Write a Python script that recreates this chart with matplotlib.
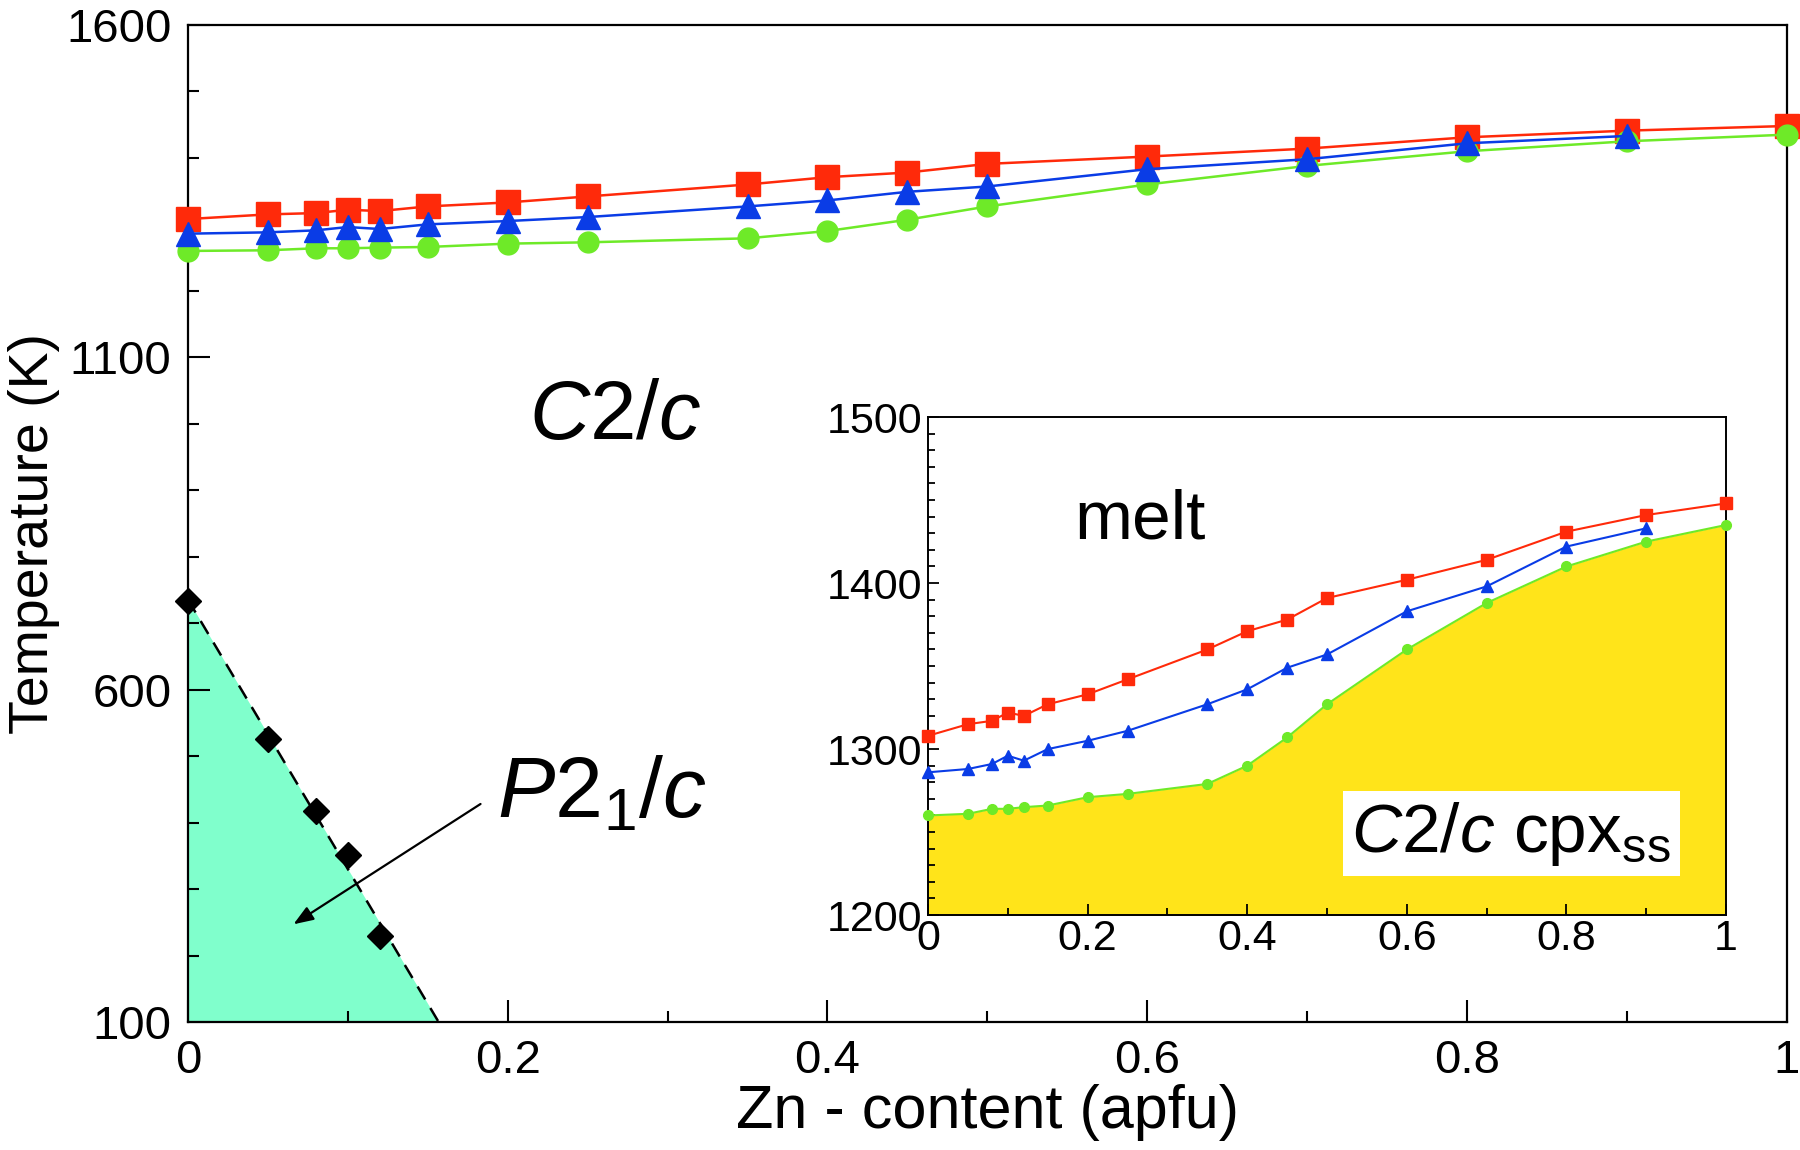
import numpy as np
import matplotlib
matplotlib.use("Agg")
import matplotlib.pyplot as plt
from matplotlib.ticker import MultipleLocator, FixedLocator

plt.rcParams["font.family"] = ["Liberation Sans", "DejaVu Sans"]
plt.rcParams["mathtext.fontset"] = "custom"
plt.rcParams["mathtext.rm"] = "Liberation Sans"
plt.rcParams["mathtext.it"] = "Liberation Sans:italic"

# ── Data ──────────────────────────────────────────────────────────────────────
zn      = [0, 0.05, 0.08, 0.10, 0.12, 0.15, 0.20, 0.25, 0.35, 0.40, 0.45, 0.50, 0.60, 0.70, 0.80, 0.90, 1.00]
t_red   = [1308, 1315, 1317, 1322, 1320, 1327, 1333, 1342, 1360, 1371, 1378, 1391, 1402, 1414, 1431, 1441, 1448]
zn_blue = [0, 0.05, 0.08, 0.10, 0.12, 0.15, 0.20, 0.25, 0.35, 0.40, 0.45, 0.50, 0.60, 0.70, 0.80, 0.90]
t_blue  = [1286, 1288, 1291, 1296, 1293, 1300, 1305, 1311, 1327, 1336, 1349, 1357, 1383, 1398, 1422, 1433]
t_green = [1260, 1261, 1264, 1264, 1265, 1266, 1271, 1273, 1279, 1290, 1307, 1327, 1360, 1388, 1410, 1425, 1435]

zn_p21  = [0, 0.05, 0.08, 0.10, 0.12]
t_p21   = [734, 526, 417, 352, 230]

main_yticks = [100, 600, 1100, 1600]

RED = "#FF2A0A"; BLUE = "#0A3CE6"; GREEN = "#6EEA28"
AQUA = "#80FFCC"; YELLOW = "#FFE41A"

fig = plt.figure(figsize=(18, 11.5), dpi=100)
ax = fig.add_axes([0.1044, 0.1113, 0.8883, 0.8670])

# ── P21/c boundary: linear trend through the diamonds, down to T = 100 ───────
slope, icpt = np.polyfit(zn_p21, t_p21, 1)
x_end = (100 - icpt) / slope
bx = np.array([0, x_end])
by = slope * bx + icpt
ax.fill_between(bx, 100, by, color=AQUA, lw=0, zorder=1)
ax.plot(bx, by, "--", color="black", lw=1.8, dashes=(6, 4), zorder=2)
ax.plot(zn_p21, t_p21, "D", color="black", ms=13, clip_on=False, zorder=4)

# ── melting curves ───────────────────────────────────────────────────────────
ax.plot(zn, t_red, "s-", color=RED, ms=17, lw=1.8, clip_on=False, zorder=3)
ax.plot(zn, t_green, "o-", color=GREEN, ms=15, lw=1.8, clip_on=False, zorder=3)
ax.plot(zn_blue, t_blue, "^-", color=BLUE, ms=17, lw=1.8, clip_on=False, zorder=3)

ax.set_xlim(0, 1)
ax.set_ylim(100, 1600)
ax.xaxis.set_major_locator(MultipleLocator(0.2))
ax.xaxis.set_minor_locator(MultipleLocator(0.1))
ax.yaxis.set_major_locator(FixedLocator(main_yticks))
ax.yaxis.set_minor_locator(MultipleLocator(100))
ax.xaxis.set_major_formatter(plt.FuncFormatter(lambda v, p: f"{v:g}"))
ax.tick_params(which="both", direction="in", top=False, right=False, width=1.5, labelsize=34)
ax.tick_params(which="major", length=16)
ax.tick_params(which="minor", length=8)
ax.tick_params(axis="y", pad=12)
ax.tick_params(axis="x", pad=12)
for sp in ax.spines.values():
    sp.set_linewidth(1.6)

ax.set_xlabel("Zn - content (apfu)", fontsize=44)
ax.set_ylabel("Temperature (K)", fontsize=40)
ax.xaxis.set_label_coords(0.5, -0.062)
ax.yaxis.set_label_coords(-0.080, 0.49)

ax.text(0.267, 1010, r"$C\mathrm{2}/c$", fontsize=60, ha="center", va="center")
ax.text(0.259, 441, r"$P\mathrm{2}_\mathrm{1}/c$", fontsize=62, ha="center", va="center")
ax.annotate("", xy=(0.066, 247), xytext=(0.183, 428),
            arrowprops=dict(arrowstyle="-|>,head_length=1.2,head_width=0.45",
                            color="black", lw=1.6, shrinkA=0, shrinkB=0))

# ── Inset ────────────────────────────────────────────────────────────────────
ins = fig.add_axes([0.5156, 0.2043, 0.4433, 0.4330], facecolor="white", zorder=5)
ins.fill_between(zn, 1200, t_green, color=YELLOW, lw=0, zorder=1)
ins.plot(zn, t_red, "s-", color=RED, ms=9, lw=1.5, clip_on=False, zorder=3)
ins.plot(zn, t_green, "o-", color=GREEN, ms=7, lw=1.5, clip_on=False, zorder=3)
ins.plot(zn_blue, t_blue, "^-", color=BLUE, ms=8, lw=1.5, clip_on=False, zorder=3)

ins.set_xlim(0, 1)
ins.set_ylim(1200, 1500)
ins.xaxis.set_major_locator(MultipleLocator(0.2))
ins.xaxis.set_minor_locator(MultipleLocator(0.1))
ins.yaxis.set_major_locator(MultipleLocator(100))
ins.yaxis.set_minor_locator(MultipleLocator(10))
ins.xaxis.set_major_formatter(plt.FuncFormatter(lambda v, p: f"{v:g}"))
ins.tick_params(which="both", direction="in", top=False, right=False, width=1.3, labelsize=31)
ins.tick_params(which="major", length=8)
ins.tick_params(which="minor", length=5)
ins.tick_params(axis="y", pad=4)
ins.tick_params(axis="x", pad=3)
for sp in ins.spines.values():
    sp.set_linewidth(1.4)

ins.text(0.265, 1438, "melt", fontsize=50, ha="center", va="center")
ins.text(0.731, 1249, r"$C\mathrm{2}/c\ \mathrm{cpx}_\mathrm{ss}$", fontsize=50,
         ha="center", va="center", zorder=6,
         bbox=dict(boxstyle="square,pad=0.12", facecolor="white", edgecolor="none"))

fig.savefig("out.png", dpi=100)
